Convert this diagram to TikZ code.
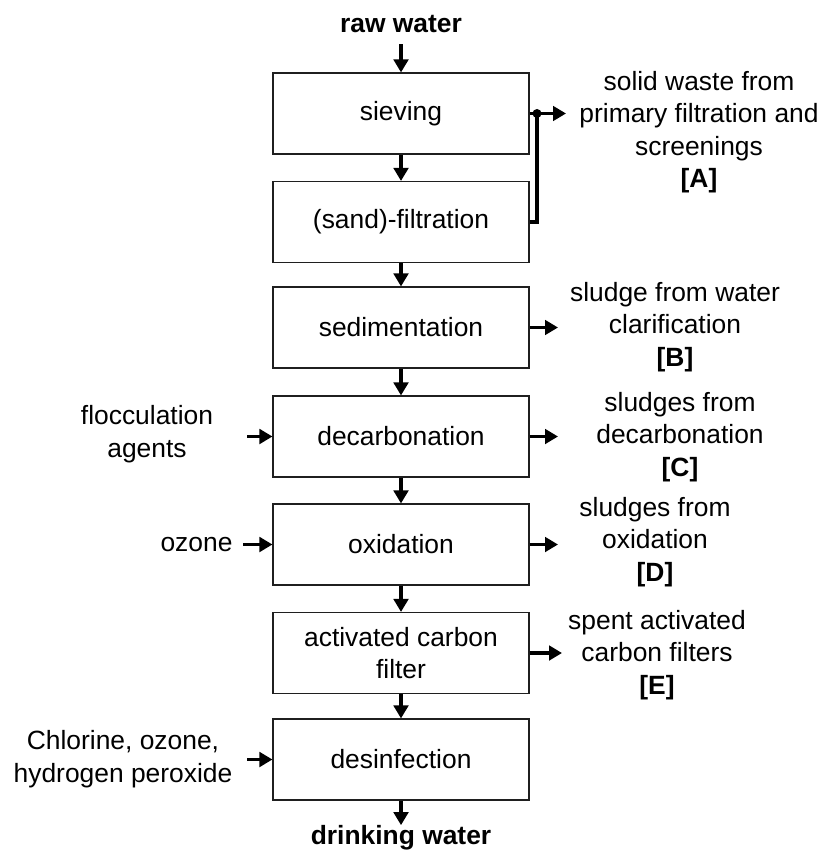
\documentclass[tikz,border=0pt]{standalone}
\usepackage{fontspec}
\setmainfont{Liberation Sans}
\usepackage{xcolor}
\usepackage{tikz}
\usetikzlibrary{arrows.meta,positioning,calc}
\definecolor{boxgray}{gray}{0.12}
\tikzset{
  stepbox/.style={draw=boxgray,line width=1.1pt,minimum width=256pt,minimum height=81pt,inner sep=0pt,align=center},
  flow/.style={-{Triangle[length=13pt,width=14.5pt]},line width=3.3pt},
  wasteln/.style={line width=3.3pt},
  wastelab/.style={align=center,inner sep=0pt},
  inlab/.style={align=center,inner sep=0pt},
  endlab/.style={font=\fontsize{26.4}{32.5}\selectfont\bfseries,inner sep=0pt},
  jdot/.style={circle,fill=black,inner sep=0pt,minimum size=9pt},
}

\begin{document}
\begin{tikzpicture}[x=1pt,y=-1pt,font=\fontsize{26.4}{32.5}\selectfont]
        \useasboundingbox (0,0) rectangle (824,850);
        % tozalash bosqichlari
        \node[endlab,anchor=base] (raw) at (401,33) {raw water};
        \node[stepbox] (siev) at (401,113.5) {sieving};
        \node[stepbox] (sand) at (401,222) {(sand)-filtration};
        \node[stepbox] (sedi) at (401,327.5) {sedimentation};
        \node[stepbox] (decarb) at (401,436.5) {decarbonation};
        \node[stepbox] (oxid) at (401,544.5) {oxidation};
        \node[stepbox] (acf) at (401,653) {activated carbon\\filter};
        \node[stepbox] (desinf) at (401,759.5) {desinfection};
        \node[endlab,anchor=base] (drink) at (401,844.5) {drinking water};
        % asosiy oqim
        \draw[flow,shorten <=11pt] (raw) -- (siev);
        \draw[flow] (siev) -- (sand);
        \draw[flow] (sand) -- (sedi);
        \draw[flow] (sedi) -- (decarb);
        \draw[flow] (decarb) -- (oxid);
        \draw[flow] (oxid) -- (acf);
        \draw[flow] (acf) -- (desinf);
        \draw[flow] (desinf) -- (drink);
        % chiqindilar
        \coordinate (jA) at (537,113.5);
        \coordinate (wA) at (566,113.5);
        \coordinate (wB) at (558,327.5);
        \coordinate (wC) at (558,436.5);
        \coordinate (wD) at (558,544.5);
        \coordinate (wE) at (562,653);
        \draw[wasteln] (siev) -- (jA);
        \draw[wasteln] (sand.east) -| (jA);
        \draw[flow] (jA) -- (wA);
        \node[jdot] (jAdot) at (jA) {};
        \draw[flow] (sedi) -- (wB);
        \draw[flow] (decarb) -- (wC);
        \draw[flow] (oxid) -- (wD);
        \draw[flow] (acf) -- (wE);
        \node[wastelab] (labA) at (699,132) {solid waste from\\primary filtration and\\screenings\\\textbf{[A]}};
        \node[wastelab] (labB) at (675,327) {sludge from water\\clarification\\\textbf{[B]}};
        \node[wastelab] (labC) at (680,437) {sludges from\\decarbonation\\\textbf{[C]}};
        \node[wastelab] (labD) at (655,542) {sludges from\\oxidation\\\textbf{[D]}};
        \node[wastelab] (labE) at (657,655) {spent activated\\carbon filters\\\textbf{[E]}};
        % qo'shimchalar
        \node[inlab] (floc) at (147,434) {flocculation\\agents};
        \node[inlab] (ozone) at (196.5,545) {ozone};
        \node[inlab] (chlor) at (123,759) {Chlorine, ozone,\\hydrogen peroxide};
        \coordinate (flocin) at (247,436.5);
        \coordinate (ozin) at (243,544.5);
        \coordinate (chlin) at (247,759.5);
        \draw[flow] (flocin) -- (decarb);
        \draw[flow] (ozin) -- (oxid);
        \draw[flow] (chlin) -- (desinf);
      \end{tikzpicture}
\end{document}
